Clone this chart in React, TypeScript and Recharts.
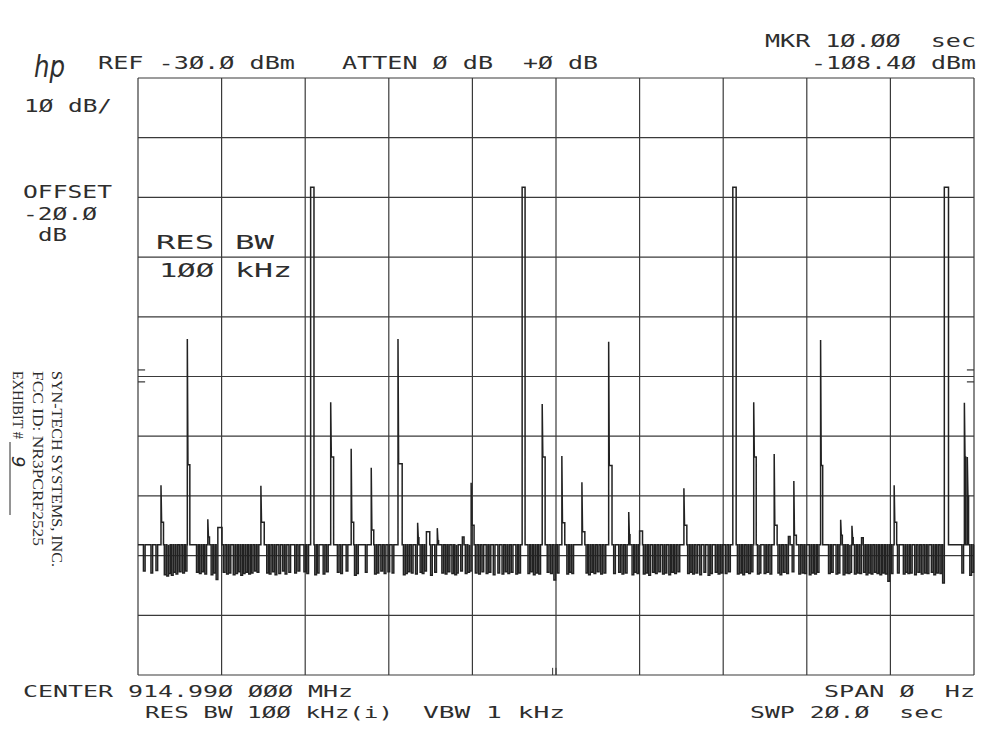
import { Line, LineChart, ReferenceLine, XAxis, YAxis } from "recharts";

// sweep: 0..20 sec, REF -30 dBm, 10 dB/div
const X_GRID = [0, 2, 4, 6, 8, 10, 12, 14, 16, 18, 20];
const Y_GRID = [-130, -120, -110, -100, -90, -80, -70, -60, -50, -40, -30];
const NOISE_FLOOR = -108.2;

// tall carrier bursts: [start, end, top dBm]
const PULSES: [number, number, number][] = [
  [4.13, 4.21, -48.3],
  [9.19, 9.26, -48.3],
  [14.23, 14.31, -48.3],
  [19.29, 19.39, -48.3]
];

// narrow spikes: [t, peak dBm, shoulder dBm, shoulder length]
const SPIKES: [number, number, number, number][] = [
  [0.55, -98.2, -104.4, 0.06],
  [1.18, -73.7, -94.8, 0.06],
  [1.67, -103.9, -106.9, 0.04],
  [2.94, -98.3, -104.4, 0.08],
  [4.61, -84.3, -93.5, 0.07],
  [5.1, -92.1, -104.4, 0.06],
  [5.58, -95.3, -105.7, 0.06],
  [6.22, -73.7, -94.6, 0.1],
  [6.69, -104.5, -107.0, 0.03],
  [7.16, -105.4, -107.5, 0.03],
  [7.97, -97.8, -104.9, 0.07],
  [9.67, -84.6, -93.5, 0.07],
  [10.14, -93.3, -104.5, 0.07],
  [10.62, -97.7, -106.0, 0.07],
  [11.26, -74.2, -94.9, 0.08],
  [11.74, -102.7, -106.5, 0.03],
  [13.06, -98.7, -104.9, 0.07],
  [14.73, -84.3, -93.5, 0.06],
  [15.22, -93.0, -104.9, 0.07],
  [15.69, -97.5, -106.6, 0.06],
  [16.33, -73.9, -94.9, 0.05],
  [16.81, -104.0, -106.6, 0.04],
  [17.08, -105.0, -107.0, 0.03],
  [18.09, -98.2, -104.4, 0.06],
  [19.77, -84.4, -93.5, 0.03],
  [19.84, -93.5, -100.0, 0.03]
];

// small raised steps on the floor: [start, end, dBm]
const BUMPS: [number, number, number][] = [
  [1.91, 2.01, -105.3],
  [6.9, 6.98, -106.0],
  [7.76, 7.8, -106.9],
  [12.0, 12.07, -105.9],
  [15.56, 15.6, -106.8],
  [17.31, 17.35, -107.0]
];

// downward noise dips: [t, dBm]
const DIPS: [number, number][] = [
  [0.13, -112.6], [0.31, -112.9], [0.43, -112.5], [0.63, -113.2], [0.69, -113.4], [0.73, -113.0],
  [0.8, -113.3], [0.85, -112.8], [0.91, -113.1], [0.99, -112.7], [1.07, -112.9], [1.13, -112.6],
  [1.4, -112.8], [1.47, -113.0], [1.53, -112.7], [1.6, -113.1], [1.75, -113.2], [1.82, -112.9],
  [1.87, -114.0], [2.04, -112.8], [2.12, -113.1], [2.18, -112.9], [2.28, -113.2], [2.34, -113.0],
  [2.4, -112.7], [2.46, -113.3], [2.52, -113.0], [2.58, -112.8], [2.65, -113.1], [2.71, -112.9],
  [2.79, -112.6], [2.85, -112.8], [3.08, -112.9], [3.14, -113.1], [3.22, -112.7], [3.28, -113.2],
  [3.37, -113.0], [3.46, -112.6], [3.52, -113.1], [3.61, -112.8], [3.75, -112.9], [3.83, -112.6],
  [3.97, -112.7], [4.04, -113.0], [4.23, -113.2], [4.29, -112.9], [4.43, -113.1], [4.51, -112.7],
  [4.77, -112.8], [4.85, -113.0], [4.98, -112.6], [5.18, -113.3], [5.23, -113.0], [5.44, -112.8],
  [5.66, -113.1], [5.72, -112.9], [5.81, -112.6], [5.89, -113.0], [5.98, -112.7], [6.08, -112.9],
  [6.35, -113.2], [6.4, -113.0], [6.46, -112.7], [6.54, -112.9], [6.64, -113.1], [6.75, -112.8],
  [6.8, -113.0], [6.86, -112.6], [7.0, -113.3], [7.1, -112.8], [7.27, -112.9], [7.35, -113.1],
  [7.42, -112.7], [7.51, -113.0], [7.58, -113.2], [7.62, -112.9], [7.72, -112.6], [7.83, -113.0],
  [7.89, -112.8], [7.93, -112.6], [8.07, -112.9], [8.15, -113.1], [8.23, -112.7], [8.33, -113.0],
  [8.4, -112.8], [8.5, -113.2], [8.61, -112.9], [8.71, -113.1], [8.79, -112.7], [8.85, -113.0],
  [8.93, -112.8], [9.04, -113.1], [9.11, -112.9], [9.33, -113.0], [9.39, -112.7], [9.46, -113.2],
  [9.52, -112.9], [9.59, -113.1], [9.79, -112.8], [9.87, -113.0], [9.95, -114.1], [10.03, -112.9],
  [10.26, -113.1], [10.32, -112.8], [10.38, -113.0], [10.72, -112.9], [10.78, -113.2], [10.84, -112.8],
  [10.91, -113.0], [10.99, -112.7], [11.07, -113.1], [11.15, -112.9], [11.38, -113.0], [11.5, -112.8],
  [11.58, -113.1], [11.66, -112.9], [11.82, -113.2], [11.88, -112.8], [11.94, -113.0], [12.09, -113.1],
  [12.15, -112.9], [12.22, -113.3], [12.31, -112.8], [12.38, -113.0], [12.46, -112.7], [12.55, -113.1],
  [12.61, -112.9], [12.7, -113.2], [12.77, -112.8], [12.84, -113.0], [12.92, -112.7], [13.15, -113.0],
  [13.21, -112.8], [13.27, -113.1], [13.35, -112.9], [13.44, -113.2], [13.54, -112.8], [13.64, -113.3],
  [13.7, -113.0], [13.81, -112.8], [13.88, -113.1], [13.95, -112.9], [14.05, -113.0], [14.13, -112.7],
  [14.34, -113.1], [14.4, -112.9], [14.47, -113.2], [14.55, -112.8], [14.61, -113.0], [14.67, -112.7],
  [14.82, -113.1], [14.86, -112.9], [14.98, -113.0], [15.04, -112.8], [15.12, -113.1], [15.31, -112.9],
  [15.36, -113.2], [15.44, -112.8], [15.52, -113.0], [15.65, -112.7], [15.81, -113.1], [15.89, -112.9],
  [15.95, -113.0], [16.06, -113.2], [16.12, -112.9], [16.19, -113.1], [16.25, -112.8], [16.52, -113.0],
  [16.59, -112.8], [16.7, -113.1], [16.75, -112.9], [16.87, -113.2], [16.92, -112.9], [16.99, -113.0],
  [17.03, -112.8], [17.14, -113.1], [17.21, -112.9], [17.27, -113.0], [17.36, -112.8], [17.42, -113.2],
  [17.48, -112.9], [17.54, -113.1], [17.62, -112.8], [17.68, -113.0], [17.75, -113.2], [17.81, -112.9],
  [17.88, -113.1], [17.94, -114.3], [18.02, -113.0], [18.17, -112.9], [18.31, -113.1], [18.37, -112.8],
  [18.42, -113.0], [18.48, -112.9], [18.58, -113.2], [18.66, -112.8], [18.74, -113.1], [18.82, -112.9],
  [18.88, -113.0], [18.98, -112.8], [19.04, -113.2], [19.11, -112.9], [19.19, -113.0], [19.25, -114.6],
  [19.71, -112.9], [19.9, -113.3], [19.95, -112.8]
];

// display-line markers on the graticule edges (dBm)
const EDGE_MARKS = [-78.9, -80.9];
const MARKER_TIME = 10;

const DIP_WIDTH = 0.04;
const SPIKE_FALL = 0.015;

type TracePoint = { t: number; level: number };

function buildTrace(): TracePoint[] {
  const events: TracePoint[][] = [];
  DIPS.forEach(([t, level]) =>
    events.push([
      { t, level: NOISE_FLOOR },
      { t, level },
      { t: t + DIP_WIDTH, level },
      { t: t + DIP_WIDTH, level: NOISE_FLOOR }
    ])
  );
  SPIKES.forEach(([t, peak, shoulder, len]) =>
    events.push([
      { t, level: NOISE_FLOOR },
      { t, level: peak },
      { t: t + SPIKE_FALL, level: shoulder },
      { t: t + len, level: shoulder },
      { t: t + len, level: NOISE_FLOOR }
    ])
  );
  PULSES.forEach(([start, end, top]) =>
    events.push([
      { t: start, level: NOISE_FLOOR },
      { t: start, level: top },
      { t: end, level: top },
      { t: end, level: NOISE_FLOOR }
    ])
  );
  BUMPS.forEach(([start, end, level]) =>
    events.push([
      { t: start, level: NOISE_FLOOR },
      { t: start, level },
      { t: end, level },
      { t: end, level: NOISE_FLOOR }
    ])
  );
  events.sort((a, b) => a[0].t - b[0].t);
  return [{ t: 0, level: NOISE_FLOOR }, ...events.flat(), { t: 20, level: NOISE_FLOOR }];
}

const trace = buildTrace();

const INK = "#2e2e2e";
const mono = "'DejaVu Sans Mono', monospace";

function Label({ x, y, w, size = 17, children }: { x: number; y: number; w: number; size?: number; children: string }) {
  return (
    <text
      x={x}
      y={y}
      textLength={w}
      lengthAdjust="spacingAndGlyphs"
      fontFamily={mono}
      fontSize={size}
      fill={INK}
      style={{ whiteSpace: "pre" }}
    >
      {children}
    </text>
  );
}

function Sideways({ x, y, w, children }: { x: number; y: number; w: number; children: string }) {
  return (
    <text
      x={x}
      y={y}
      transform={`rotate(90 ${x} ${y})`}
      textLength={w}
      lengthAdjust="spacingAndGlyphs"
      fontFamily="'Liberation Serif', serif"
      fontSize={14}
      fill="#2a2a2a"
    >
      {children}
    </text>
  );
}

export default function App() {
  return (
    <div style={{ position: "absolute", left: 0, top: 0, width: 998, height: 750, background: "#fff" }}>
      <LineChart width={998} height={750} data={trace} margin={{ top: 78, right: 24, bottom: 75, left: 138 }}>
        <XAxis dataKey="t" type="number" domain={[0, 20]} hide />
        <YAxis type="number" domain={[-130, -30]} hide />
        {X_GRID.map((x) => (
          <ReferenceLine key={`x${x}`} x={x} stroke="#3a3a3a" strokeWidth={1.2} />
        ))}
        {Y_GRID.map((y) => (
          <ReferenceLine key={`y${y}`} y={y} stroke="#3a3a3a" strokeWidth={1.2} />
        ))}
        {EDGE_MARKS.map((y) => (
          <ReferenceLine
            key={`l${y}`}
            segment={[
              { x: 0, y },
              { x: 0.17, y }
            ]}
            stroke="#333"
            strokeWidth={1.2}
          />
        ))}
        {EDGE_MARKS.map((y) => (
          <ReferenceLine
            key={`r${y}`}
            segment={[
              { x: 19.83, y },
              { x: 20, y }
            ]}
            stroke="#333"
            strokeWidth={1.2}
          />
        ))}
        <ReferenceLine
          segment={[
            { x: MARKER_TIME - 0.08, y: -130 },
            { x: MARKER_TIME - 0.08, y: -128.8 }
          ]}
          stroke="#333"
        />
        <ReferenceLine
          segment={[
            { x: MARKER_TIME, y: -130 },
            { x: MARKER_TIME, y: -128.8 }
          ]}
          stroke="#333"
        />
        <Line
          type="linear"
          dataKey="level"
          dot={false}
          stroke="#222"
          strokeWidth={1.5}
          isAnimationActive={false}
        />
      </LineChart>
      <svg width={998} height={750} style={{ position: "absolute", left: 0, top: 0, pointerEvents: "none" }}>
        <text
          x={34}
          y={77}
          fontFamily="'DejaVu Sans', sans-serif"
          fontStyle="italic"
          fontWeight={300}
          fontSize={30}
          fill={INK}
          textLength={31}
          lengthAdjust="spacingAndGlyphs"
        >
          hp
        </text>
        <Label x={98} y={69} w={197}>REF -3Ø.Ø dBm</Label>
        <Label x={342} y={69} w={151}>ATTEN Ø dB</Label>
        <Label x={523} y={69} w={75}>+Ø dB</Label>
        <Label x={765} y={47} w={211}>MKR 1Ø.ØØ  sec</Label>
        <Label x={811} y={69} w={165}>-1Ø8.4Ø dBm</Label>
        <Label x={24} y={112} w={88}>1Ø dB/</Label>
        <Label x={23} y={198} w={89}>OFFSET</Label>
        <Label x={23} y={220} w={74}>-2Ø.Ø</Label>
        <Label x={38} y={241} w={29}>dB</Label>
        <Label x={156} y={249} w={58} size={20}>RES</Label>
        <Label x={235} y={249} w={39} size={20}>BW</Label>
        <Label x={159} y={277} w={55} size={20}>1ØØ</Label>
        <Label x={235} y={277} w={57} size={20}>kHz</Label>
        <Label x={23} y={697} w={330} size={15}>CENTER 914.99Ø ØØØ MHz</Label>
        <Label x={145} y={718} w={248} size={15}>RES BW 1ØØ kHz(i)</Label>
        <Label x={423} y={718} w={142} size={15}>VBW 1 kHz</Label>
        <Label x={824} y={697} w={151} size={15}>SPAN Ø  Hz</Label>
        <Label x={750} y={718} w={194} size={15}>SWP 2Ø.Ø  sec</Label>
        <Sideways x={52} y={371} w={196}>SYN-TECH SYSTEMS, INC.</Sideways>
        <Sideways x={33} y={371} w={175}>FCC ID: NR3PCRF2525</Sideways>
        <Sideways x={13} y={371} w={68}>EXHIBIT #</Sideways>
        <line x1={10} y1={442} x2={10} y2={515} stroke="#2a2a2a" strokeWidth={1} />
        <text
          x={12}
          y={456}
          transform="rotate(90 12 456)"
          fontFamily="'DejaVu Sans', sans-serif"
          fontStyle="italic"
          fontSize={18}
          fill="#2a2a2a"
        >
          9
        </text>
      </svg>
    </div>
  );
}
